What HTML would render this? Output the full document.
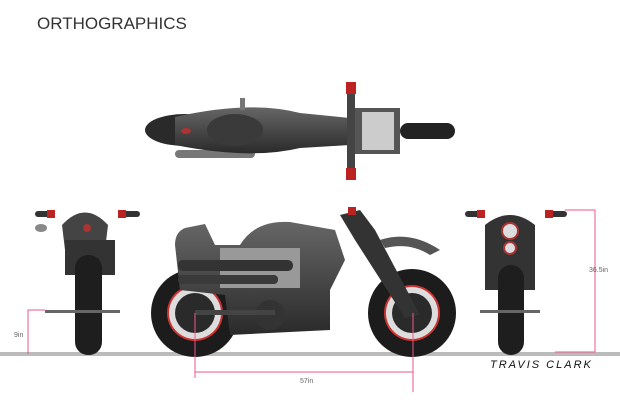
<!DOCTYPE html>
<html><head><style>
body{margin:0;background:#fff;width:620px;height:400px;overflow:hidden;font-family:"Liberation Sans",sans-serif}
</style></head><body>
<svg width="620" height="400" viewBox="0 0 620 400" xmlns="http://www.w3.org/2000/svg">
<defs>
<linearGradient id="g1" x1="0" y1="0" x2="0" y2="1"><stop offset="0" stop-color="#666"/><stop offset="1" stop-color="#2a2a2a"/></linearGradient>
</defs>
<text x="37" y="29" font-size="17" fill="#333" font-family="Liberation Sans, sans-serif">ORTHOGRAPHICS</text>

<!-- top view -->
<rect x="400" y="123" width="55" height="16" rx="8" fill="#222"/>
<rect x="175" y="150" width="80" height="8" rx="4" fill="#777"/>
<ellipse cx="185" cy="130" rx="40" ry="16" fill="#2a2a2a"/>
<path d="M175 117 Q250 100 300 113 L350 118 L350 145 L300 148 Q250 160 175 145 Z" fill="url(#g1)"/>
<ellipse cx="235" cy="130" rx="28" ry="16" fill="#3a3a3a"/>
<rect x="350" y="108" width="50" height="46" fill="#555"/>
<rect x="362" y="112" width="32" height="38" fill="#ccc"/>
<rect x="347" y="82" width="8" height="98" fill="#444"/>
<rect x="346" y="82" width="10" height="12" fill="#b22"/>
<rect x="346" y="168" width="10" height="12" fill="#b22"/>
<rect x="240" y="98" width="5" height="12" fill="#777"/>
<ellipse cx="186" cy="131" rx="5" ry="3" fill="#a33"/>

<!-- ground -->
<rect x="0" y="352" width="620" height="4" fill="#bbb"/>

<!-- rear view -->
<rect x="35" y="211" width="20" height="6" rx="3" fill="#333"/><rect x="47" y="210" width="8" height="8" fill="#b22"/>
<rect x="118" y="211" width="22" height="6" rx="3" fill="#333"/><rect x="118" y="210" width="8" height="8" fill="#b22"/>
<ellipse cx="41" cy="228" rx="6" ry="4" fill="#888"/>
<path d="M62 225 Q85 200 108 225 L105 250 L65 250 Z" fill="#444"/>
<rect x="65" y="240" width="50" height="35" fill="#333"/>
<rect x="75" y="255" width="27" height="100" rx="13" fill="#1e1e1e"/>
<rect x="45" y="310" width="75" height="3" fill="#666"/>
<circle cx="87" cy="228" r="4" fill="#a33"/>

<!-- side view -->
<circle cx="195" cy="313" r="44" fill="#1c1c1c"/>
<circle cx="195" cy="313" r="28" fill="#c33"/><circle cx="195" cy="313" r="26" fill="#ddd"/><circle cx="195" cy="313" r="20" fill="#2a2a2a"/>
<circle cx="412" cy="313" r="44" fill="#1c1c1c"/>
<circle cx="412" cy="313" r="28" fill="#c33"/><circle cx="412" cy="313" r="26" fill="#ddd"/><circle cx="412" cy="313" r="20" fill="#2a2a2a"/>
<path d="M175 245 Q175 232 185 228 L205 224 L215 245 L240 245 Q255 220 290 222 L335 230 L345 260 L330 290 L330 330 L230 335 L225 295 L180 290 Z" fill="url(#g1)"/>
<rect x="220" y="248" width="80" height="40" fill="#999"/>
<rect x="178" y="260" width="115" height="11" rx="5" fill="#333"/>
<rect x="178" y="275" width="100" height="9" rx="4" fill="#3a3a3a"/>
<circle cx="270" cy="315" r="15" fill="#333"/>
<path d="M340 215 L360 210 L375 230 L420 315 L405 318 L355 240 Z" fill="#333"/>
<path d="M380 240 Q410 230 440 250 L430 255 Q410 242 385 248 Z" fill="#555"/>
<rect x="348" y="207" width="8" height="8" fill="#b22"/>
<rect x="195" y="310" width="80" height="5" fill="#444"/>

<!-- front view -->
<rect x="465" y="211" width="20" height="6" rx="3" fill="#333"/><rect x="477" y="210" width="8" height="8" fill="#b22"/>
<rect x="545" y="211" width="22" height="6" rx="3" fill="#333"/><rect x="545" y="210" width="8" height="8" fill="#b22"/>
<path d="M485 225 Q510 205 535 225 L535 290 L485 290 Z" fill="#333"/>
<circle cx="510" cy="231" r="8" fill="#ddd" stroke="#a33" stroke-width="2"/>
<circle cx="510" cy="248" r="6" fill="#ddd" stroke="#a33" stroke-width="2"/>
<rect x="498" y="265" width="26" height="90" rx="13" fill="#1e1e1e"/>
<rect x="480" y="310" width="60" height="3" fill="#666"/>

<!-- dimensions -->
<g stroke="#e58" stroke-width="1" fill="none">
<path d="M28 354 V310 H45"/>
<path d="M195 313 V378 M413 313 V392 M195 372 H413"/>
<path d="M565 210 H595 V352 H555"/>
</g>
<g font-size="7" fill="#666" font-family="Liberation Sans, sans-serif">
<text x="14" y="337">9in</text>
<text x="300" y="383">57in</text>
<text x="589" y="272">36.5in</text>
</g>
<text x="490" y="368" font-size="11" font-style="italic" fill="#111" font-family="Liberation Sans, sans-serif" letter-spacing="2">TRAVIS CLARK</text>
</svg>
</body></html>
